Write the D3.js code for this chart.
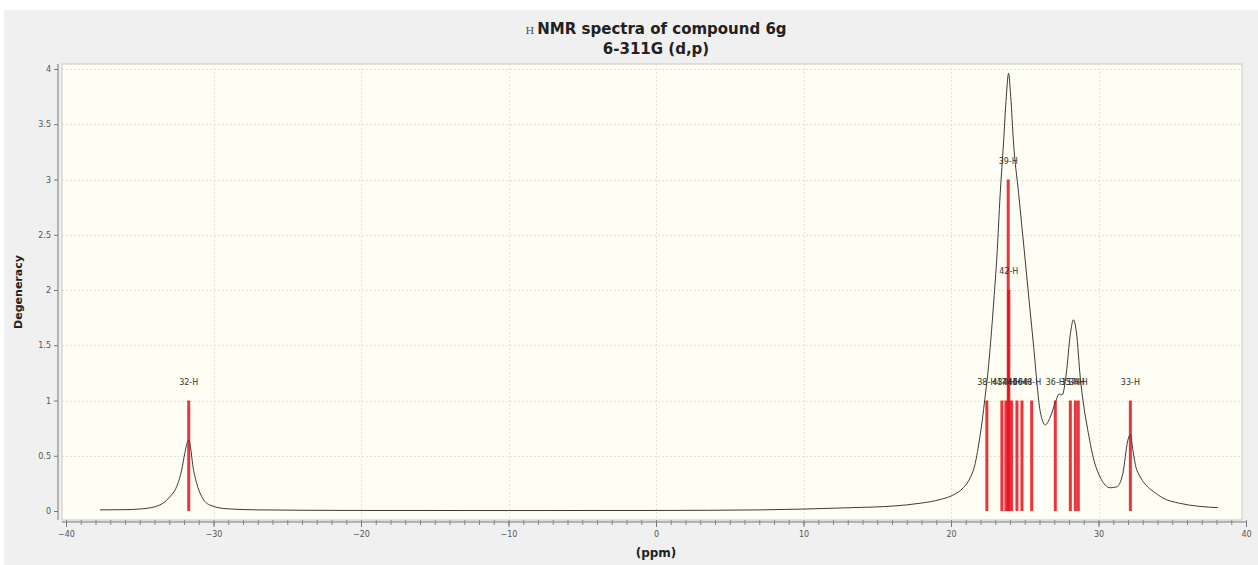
<!DOCTYPE html>
<html>
<head>
<meta charset="utf-8">
<script src="https://cdn.jsdelivr.net/npm/d3@7"></script>
<style>
  html, body { margin: 0; padding: 0; background: #ffffff; }
  svg { display: block; }
</style>
</head>
<body>
<svg id="chart" width="1258" height="565"></svg>
<script>
// Chemical shifts (ppm) of the stick spectrum, their degeneracy and atom labels
const shifts      = [-31.68, 22.43, 23.45, 23.72, 23.88, 23.92, 24.10, 24.47, 24.81, 25.47, 27.07, 28.09, 28.43, 28.63, 32.16];
const degeneracy  = [1, 1, 1, 1, 3, 2, 1, 1, 1, 1, 1, 1, 1, 1, 1];
const atomLabels  = ["32-H", "38-H", "43-H", "47-H", "39-H", "42-H", "44-H", "45-H", "46-H", "48-H", "36-H", "35-H", "37-H", "34-H", "33-H"];

// Broadened spectrum envelope: ppm positions and degeneracy values
const curvePpm = [-37.7, -36.0, -34.8, -33.65, -32.97, -32.5, -32.16, -31.95, -31.75, -31.68, -31.55, -31.41, -31.14, -30.8, -30.26, -29.1, -26.9,
                  -20, -10, 0, 7, 13.2, 16.1, 17.9, 19.3, 20.15, 20.83, 21.3, 21.64, 21.85, 22.12, 22.3, 22.5, 22.7, 22.9, 23.11, 23.34, 23.56, 23.75,
                  23.9, 24.05, 24.24, 24.58, 25.03, 25.58, 26.05, 26.39, 26.73, 27.07, 27.34, 27.54, 27.82, 28.09, 28.3, 28.5, 28.77, 29.0, 29.25,
                  29.65, 30.1, 30.8, 31.25, 31.65, 31.99, 32.16, 32.33, 32.6, 34.1, 35.5, 38.1];
const curveVal = [0.01, 0.012, 0.02, 0.054, 0.127, 0.22, 0.37, 0.52, 0.63, 0.64, 0.57, 0.42, 0.25, 0.13, 0.055, 0.02, 0.01,
                  0.005, 0.004, 0.005, 0.01, 0.03, 0.045, 0.07, 0.105, 0.145, 0.21, 0.3, 0.43, 0.58, 0.82, 1.02, 1.25, 1.55, 1.9, 2.3, 2.88, 3.33, 3.75,
                  3.96, 3.75, 3.33, 2.88, 2.27, 1.52, 0.9, 0.78, 0.85, 0.98, 1.06, 1.05, 1.25, 1.6, 1.73, 1.62, 1.2, 0.95, 0.75,
                  0.48, 0.31, 0.21, 0.22, 0.34, 0.64, 0.69, 0.55, 0.37, 0.14, 0.07, 0.03];

// Axis ticks
const xTicks = [-40, -30, -20, -10, 0, 10, 20, 30, 40];
const yTicks = [0, 0.5, 1, 1.5, 2, 2.5, 3, 3.5, 4];
const yTickLabels = ["0", "0.5", "1", "1.5", "2", "2.5", "3", "3.5", "4"];

const titleLine1 = "NMR spectra of compound 6g";
const titlePrefix = "H";
const titleLine2 = "6-311G (d,p)";

const svg = d3.select("#chart");

// Frame and panel background
svg.append("rect").attr("x", 4).attr("y", 10).attr("width", 1254).attr("height", 555).attr("fill", "#f0f0f0");

const plot = { left: 62, right: 1242, top: 64, bottom: 520 };
const x = d3.scaleLinear().domain([-40, 40]).range([66, 1246]);
const y = d3.scaleLinear().domain([0, 4]).range([511, 69]);

svg.append("rect")
  .attr("x", plot.left).attr("y", plot.top)
  .attr("width", plot.right - plot.left).attr("height", plot.bottom - plot.top)
  .attr("fill", "#fffef4").attr("stroke", "#c8c8c8").attr("stroke-width", 1);

// Grid
const grid = svg.append("g").attr("stroke", "#e4e2d6").attr("stroke-width", 1).attr("stroke-dasharray", "2,2");
grid.selectAll("line.h").data(yTicks.slice(1)).join("line")
  .attr("x1", plot.left).attr("x2", plot.right)
  .attr("y1", d => Math.round(y(d)) + 0.5).attr("y2", d => Math.round(y(d)) + 0.5);
grid.selectAll("line.v").data(xTicks.slice(1, -1)).join("line")
  .attr("y1", plot.top).attr("y2", plot.bottom)
  .attr("x1", d => Math.round(x(d)) + 0.5).attr("x2", d => Math.round(x(d)) + 0.5);

// Y axis
const yAxis = d3.axisLeft(y).tickValues(yTicks).tickFormat((d, i) => yTickLabels[i]).tickSize(4).tickPadding(3);
const gy = svg.append("g").attr("transform", `translate(${plot.left - 4},0)`).call(yAxis);
gy.select(".domain").attr("stroke", "#777").attr("d", `M0,${plot.top}V${plot.bottom}`);
gy.selectAll(".tick line").attr("stroke", "#777");
gy.selectAll(".tick text").attr("fill", "#555").style("font-family", "Verdana, 'DejaVu Sans', sans-serif").style("font-size", "8px");

// X axis with minor ticks every ppm
const gxMinor = svg.append("g").attr("transform", `translate(0,${plot.bottom + 2})`)
  .call(d3.axisBottom(x).ticks(80).tickSize(3).tickFormat(""));
gxMinor.selectAll(".tick line").attr("stroke", "#888").attr("y1", -2);
gxMinor.select(".domain").attr("stroke", "#777").attr("d", `M${plot.left},0H${plot.right + 4}`);
const gx = svg.append("g").attr("transform", `translate(0,${plot.bottom + 2})`)
  .call(d3.axisBottom(x).tickValues(xTicks).tickSize(5).tickPadding(4));
gx.select(".domain").remove();
gx.selectAll(".tick line").attr("stroke", "#777");
gx.selectAll(".tick text").attr("fill", "#555").style("font-family", "Verdana, 'DejaVu Sans', sans-serif").style("font-size", "8px");

// Axis titles
svg.append("text").attr("x", 656).attr("y", 557).attr("text-anchor", "middle")
  .style("font-family", "Verdana, 'DejaVu Sans', sans-serif").style("font-size", "12px").style("font-weight", "bold")
  .attr("fill", "#222").text("(ppm)");
svg.append("text").attr("transform", "translate(22,292) rotate(-90)").attr("text-anchor", "middle")
  .style("font-family", "Verdana, 'DejaVu Sans', sans-serif").style("font-size", "11px").style("font-weight", "bold")
  .attr("fill", "#222").text("Degeneracy");

// Title
const t1 = svg.append("text").attr("x", 656).attr("y", 34).attr("text-anchor", "middle").attr("fill", "#222");
t1.append("tspan").style("font-family", "'DejaVu Serif', serif").style("font-size", "10px").attr("fill", "#444").text(titlePrefix + " ");
t1.append("tspan").style("font-family", "Verdana, 'DejaVu Sans', sans-serif").style("font-size", "15px").style("font-weight", "bold").text(titleLine1);
svg.append("text").attr("x", 656).attr("y", 54).attr("text-anchor", "middle").attr("fill", "#222")
  .style("font-family", "Verdana, 'DejaVu Sans', sans-serif").style("font-size", "15px").style("font-weight", "bold").text(titleLine2);

// Stick spectrum
const sticks = shifts.map((s, i) => ({ ppm: s, deg: degeneracy[i], label: atomLabels[i] }));
svg.append("g").selectAll("line").data(sticks).join("line")
  .attr("x1", d => x(d.ppm)).attr("x2", d => x(d.ppm))
  .attr("y1", y(0)).attr("y2", d => y(d.deg))
  .attr("stroke", "#e8101c").attr("stroke-opacity", 0.85).attr("stroke-width", 3);

// Broadened envelope
const pts = curvePpm.map((p, i) => [p, curveVal[i]]);
svg.append("path").datum(pts)
  .attr("fill", "none").attr("stroke", "#3a3a3a").attr("stroke-width", 1)
  .attr("d", d3.line().x(d => x(d[0])).y(d => y(d[1])).curve(d3.curveMonotoneX));

// Atom labels above sticks
svg.append("g").selectAll("text").data(sticks).join("text")
  .attr("x", d => x(d.ppm)).attr("y", d => y(d.deg) - 16)
  .attr("text-anchor", "middle")
  .style("font-family", "Verdana, 'DejaVu Sans', sans-serif").style("font-size", "8px")
  .attr("fill", "#333").text(d => d.label);
</script>
</body>
</html>
